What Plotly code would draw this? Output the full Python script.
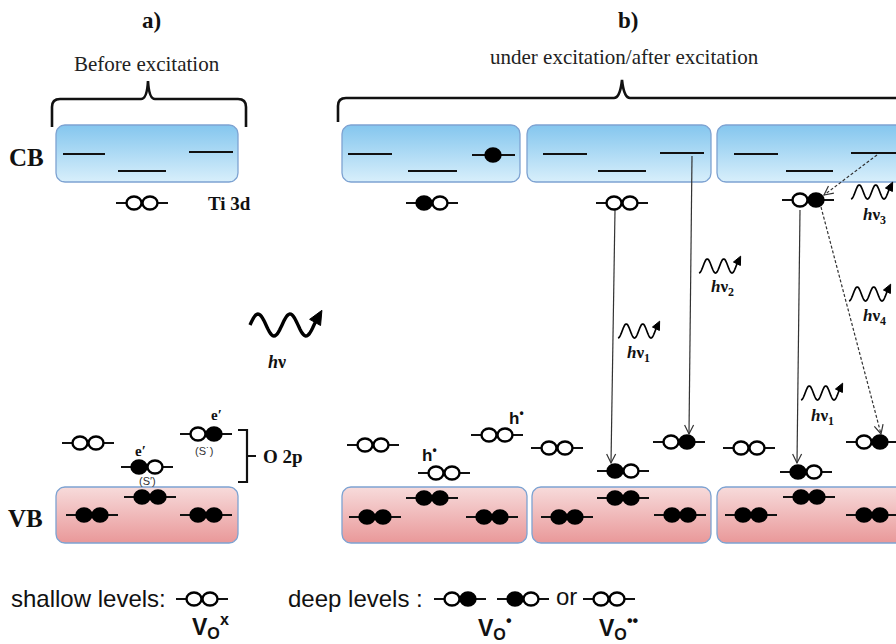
import math
import plotly.graph_objects as go

W, H = 896, 644

# ---------------------------------------------------------------- band panels
# conduction band (CB) and valence band (VB) panels: (left, right)
CB_PANELS = [(56, 238), (342, 520), (527, 711), (717, 906)]
VB_PANELS = [(56, 238), (342, 527), (532, 711), (717, 906)]
CB_SPAN = (125, 182)          # top, bottom
VB_SPAN = (487, 543)

# Ti 3d sub-levels inside the conduction band: (x_start, x_end, level)
CB_LEVELS = [
    (63, 105, 154), (118, 166, 171), (189, 233, 152),
    (348, 392, 154), (408, 457, 171), (472, 515, 155),
    (543, 587, 154), (598, 646, 171), (660, 704, 153),
    (734, 778, 154), (786, 833, 171), (851, 900, 153),
]
# electron sitting on a CB sub-level
CB_ELECTRONS = [(493, 155)]

# defect / O 2p levels: centre x, level y, occupancy (f = electron, o = empty)
LEVEL_X = [142, 432, 622, 808,
           88, 147, 206,
           373, 444, 497, 557, 623, 679, 749, 806, 872,
           92, 150, 206, 375, 432, 492, 567, 623, 680, 751, 809, 872]
LEVEL_Y = [203, 203, 203, 200,
           443, 467, 434,
           445, 473, 435, 448, 471, 442, 448, 472, 442,
           515, 497, 515, 517, 498, 517, 517, 498, 515, 515, 497, 515]
LEVEL_STATE = ["oo", "fo", "oo", "of",
               "oo", "fo", "of",
               "oo", "oo", "oo", "oo", "fo", "of", "oo", "fo", "of",
               "ff", "ff", "ff", "ff", "ff", "ff", "ff", "ff", "ff", "ff", "ff", "ff"]

# key symbols along the bottom
KEY_X = [202, 460, 523, 609]
KEY_Y = [599, 599, 599, 599]
KEY_STATE = ["oo", "of", "fo", "oo"]

# recombination transitions: start x, start y, end x, end y, style
TRANSITIONS = [
    (615, 210, 611, 463, "solid"),
    (692, 156, 689, 434, "solid"),
    (800, 210, 797, 463, "solid"),
    (821, 207, 881, 434, "dash"),
    (877, 155, 824, 195, "dash"),
]

# photons: start x, centre y, amplitude, period, phase0, phase1, width, label, label x, label y, size
PHOTONS = [
    (250, 325, 11, 32, 0.25, 2.38, 3.4, "<b><i>h</i>ν</b>", 277, 362, 18),
    (618, 331, 7, 16.5, 0.0, 2.4, 1.7, "<b><i>h</i>ν<sub>1</sub></b>", 638, 354, 17),
    (699, 266, 7, 16.5, 0.0, 2.4, 1.7, "<b><i>h</i>ν<sub>2</sub></b>", 722, 288, 17),
    (851, 192, 7, 16.5, 0.0, 2.4, 1.7, "<b><i>h</i>ν<sub>3</sub></b>", 874, 216, 17),
    (849, 294, 7, 16.5, 0.0, 2.4, 1.7, "<b><i>h</i>ν<sub>4</sub></b>", 874, 317, 17),
    (801, 393, 7, 16.5, 0.0, 2.4, 1.7, "<b><i>h</i>ν<sub>1</sub></b>", 822, 417, 17),
]

SERIF = "Liberation Serif"
SANS = "Liberation Sans"

# text labels: text, x, y, size, family, colour
LABELS = [
    ("<b>a)</b>", 151, 20, 23, SERIF, "#111"),
    ("<b>b)</b>", 628, 20, 23, SERIF, "#111"),
    ("Before excitation", 147, 64, 21, SERIF, "#222"),
    ("under excitation/after excitation", 624, 57, 21, SERIF, "#222"),
    ("<b>CB</b>", 26, 157, 25, SERIF, "#111"),
    ("<b>VB</b>", 25, 518, 25, SERIF, "#111"),
    ("<b>Ti 3d</b>", 229, 203, 19, SERIF, "#111"),
    ("<b>O 2p</b>", 283, 456, 19, SERIF, "#111"),
    ("<b>e′</b>", 140, 451, 15, SERIF, "#111"),
    ("<b>e′</b>", 216, 415, 15, SERIF, "#111"),
    ("(S′)", 147, 481, 11, SANS, "#333"),
    ("(S˙)", 204, 451, 11, SANS, "#333"),
    ("<b>h<sup>•</sup></b>", 429, 454, 17, SANS, "#111"),
    ("<b>h<sup>•</sup></b>", 516, 417, 17, SANS, "#111"),
    ("shallow levels:", 88, 598, 24, SANS, "#111"),
    ("deep levels :", 355, 598, 24, SANS, "#111"),
    ("or", 566, 596, 24, SANS, "#111"),
    ("<b>V<sub>O</sub><sup>x</sup></b>", 210, 626, 23, SANS, "#111"),
    ("<b>V<sub>O</sub><sup>•</sup></b>", 495, 627, 23, SANS, "#111"),
    ("<b>V<sub>O</sub><sup>••</sup></b>", 619, 627, 23, SANS, "#111"),
]

# braces over the panels (svg path strings in axis units)
BRACES = [
    "M 52 127 L 52 107 Q 52 99 60 99 L 141 99 Q 147 99 148 81 Q 149 99 155 99 "
    "L 238 99 Q 246 99 246 107 L 246 127",
    "M 338 122 L 338 106 Q 338 98 346 98 L 614 98 Q 620 98 622 80 Q 624 98 630 98 L 905 98",
]
# O 2p bracket
O2P_BRACKET = "M 238 430 L 247 430 L 247 482 L 238 482 M 247 456 L 256 456"

CB_COLORS = ("#84c6ee", "#d8effb")
VB_COLORS = ("#f7dbdb", "#e99899")
BORDER = "#7ea3d2"


def rounded_rect(x0, x1, y0, y1, r=9, n=8):
    xs, ys = [], []
    corners = [(x1 - r, y0 + r, -90, 0), (x1 - r, y1 - r, 0, 90),
               (x0 + r, y1 - r, 90, 180), (x0 + r, y0 + r, 180, 270)]
    for cx, cy, a0, a1 in corners:
        for k in range(n + 1):
            a = math.radians(a0 + (a1 - a0) * k / n)
            xs.append(cx + r * math.cos(a))
            ys.append(cy + r * math.sin(a))
    xs.append(xs[0])
    ys.append(ys[0])
    return xs, ys


fig = go.Figure()

for panels, (top, bot), (c_top, c_bot) in [(CB_PANELS, CB_SPAN, CB_COLORS),
                                           (VB_PANELS, VB_SPAN, VB_COLORS)]:
    for left, right in panels:
        xs, ys = rounded_rect(left, right, top, bot)
        fig.add_trace(go.Scatter(
            x=xs, y=ys, mode="lines", fill="toself",
            fillgradient=dict(type="vertical", start=top, stop=bot,
                              colorscale=[[0, c_top], [1, c_bot]]),
            line=dict(color=BORDER, width=1.3),
            hoverinfo="skip", showlegend=False))

shapes = []


def line(x0, y0, x1, y1, width=2.0, color="#111", dash="solid"):
    shapes.append(dict(type="line", xref="x", yref="y", x0=x0, y0=y0, x1=x1, y1=y1,
                       line=dict(color=color, width=width, dash=dash), layer="above"))


def dot(cx, cy, filled, w=15, h=13):
    shapes.append(dict(type="circle", xref="x", yref="y",
                       x0=cx - w / 2, x1=cx + w / 2, y0=cy - h / 2, y1=cy + h / 2,
                       fillcolor="#000" if filled else "#fff",
                       line=dict(color="#000", width=2.4), layer="above"))


def level(cx, cy, state):
    line(cx - 26, cy, cx + 26, cy, width=2.0)
    dot(cx - 8, cy, state[0] == "f")
    dot(cx + 8, cy, state[1] == "f")


def path(d, width=2.0, color="#111", fill=None, dash="solid"):
    s = dict(type="path", xref="x", yref="y", path=d,
             line=dict(color=color, width=width, dash=dash), layer="above")
    if fill:
        s["fillcolor"] = fill
    shapes.append(s)


# CB sub-levels
for x0, x1, y in CB_LEVELS:
    line(x0, y, x1, y, width=2.0)
for cx, cy in CB_ELECTRONS:
    dot(cx, cy, True)

# transitions with open arrowheads
for x0, y0, x1, y1, style in TRANSITIONS:
    dash = "solid" if style == "solid" else "3px,2px"
    line(x0, y0, x1, y1, width=1.2, color="#333", dash=dash)
    L = math.hypot(x1 - x0, y1 - y0)
    dx, dy = (x1 - x0) / L, (y1 - y0) / L
    nx, ny = -dy, dx
    a = (x1 - 9 * dx + 4.5 * nx, y1 - 9 * dy + 4.5 * ny)
    b = (x1 - 9 * dx - 4.5 * nx, y1 - 9 * dy - 4.5 * ny)
    path(f"M {a[0]:.2f} {a[1]:.2f} L {x1} {y1} L {b[0]:.2f} {b[1]:.2f}",
         width=1.2, color="#333")

# defect levels
for cx, cy, st in zip(LEVEL_X, LEVEL_Y, LEVEL_STATE):
    level(cx, cy, st)
for cx, cy, st in zip(KEY_X, KEY_Y, KEY_STATE):
    level(cx, cy, st)

# photons: wavy line with filled head
annotations = []
for (xs0, yc, amp, per, ph0, ph1, lw, text, lx, ly, size) in PHOTONS:
    pts = []
    steps = 60
    for k in range(steps + 1):
        ph = ph0 + (ph1 - ph0) * k / steps
        x = xs0 + (ph - ph0) * per
        y = yc + amp * math.cos(2 * math.pi * ph)
        pts.append((x, y))
    d = "M " + " L ".join(f"{x:.2f} {y:.2f}" for x, y in pts)
    path(d, width=lw, color="#000")
    (xa, ya), (xb, yb) = pts[-3], pts[-1]
    L = math.hypot(xb - xa, yb - ya)
    dx, dy = (xb - xa) / L, (yb - ya) / L
    nx, ny = -dy, dx
    hl = 3.2 * lw + 3
    hw = 1.4 * lw + 1.5
    tip = (xb + hl * 0.55 * dx, yb + hl * 0.55 * dy)
    b1 = (tip[0] - hl * dx + hw * nx, tip[1] - hl * dy + hw * ny)
    b2 = (tip[0] - hl * dx - hw * nx, tip[1] - hl * dy - hw * ny)
    path(f"M {tip[0]:.2f} {tip[1]:.2f} L {b1[0]:.2f} {b1[1]:.2f} "
         f"L {b2[0]:.2f} {b2[1]:.2f} Z", width=1, color="#000", fill="#000")
    annotations.append(dict(x=lx, y=ly, xref="x", yref="y", text=text, showarrow=False,
                            font=dict(family=SERIF, size=size, color="#111"),
                            xanchor="center", yanchor="middle"))

# braces and bracket
for d in BRACES:
    path(d, width=2.6, color="#111")
path(O2P_BRACKET, width=2.2, color="#111")

for text, x, y, size, fam, col in LABELS:
    annotations.append(dict(x=x, y=y, xref="x", yref="y", text=text, showarrow=False,
                            font=dict(family=fam, size=size, color=col),
                            xanchor="center", yanchor="middle"))

fig.update_layout(
    width=W, height=H, margin=dict(l=0, r=0, t=0, b=0),
    paper_bgcolor="white", plot_bgcolor="white", showlegend=False,
    xaxis=dict(range=[0, W], visible=False, fixedrange=True),
    yaxis=dict(range=[H, 0], visible=False, fixedrange=True),
    shapes=shapes, annotations=annotations,
)

fig.write_html("out.html", config={"displayModeBar": False})
